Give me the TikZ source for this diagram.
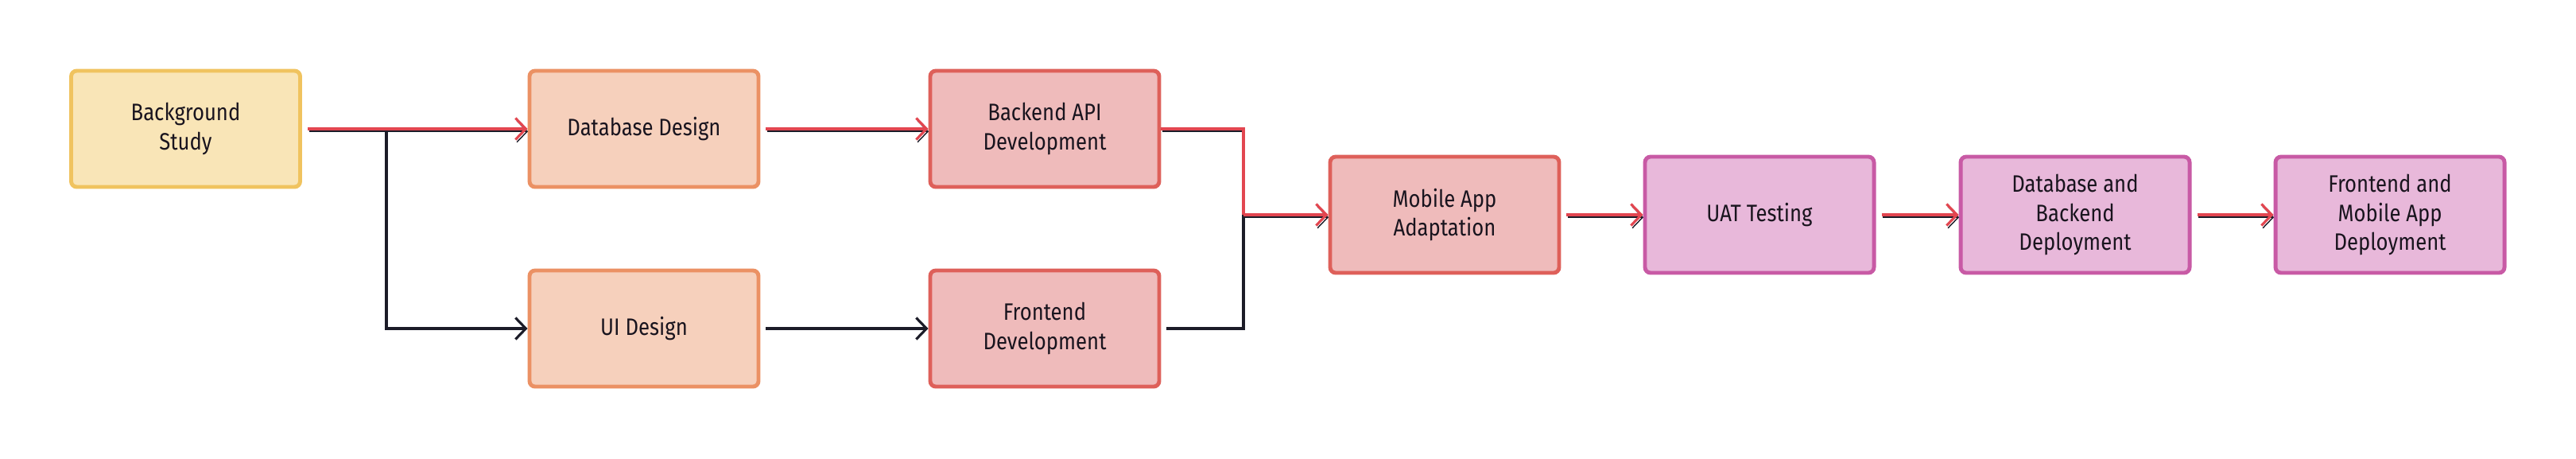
\documentclass[tikz,border=0pt]{standalone}
\usepackage{fontspec}
\setmainfont[FakeStretch=0.86]{Fira Sans}
\usetikzlibrary{arrows.meta}
\definecolor{studyfill}{RGB}{249,229,183}
\definecolor{studyline}{RGB}{240,195,95}
\definecolor{designfill}{RGB}{246,208,188}
\definecolor{designline}{RGB}{235,145,100}
\definecolor{devfill}{RGB}{239,187,187}
\definecolor{devline}{RGB}{222,96,90}
\definecolor{deployfill}{RGB}{232,184,218}
\definecolor{deployline}{RGB}{200,90,165}
\definecolor{critred}{RGB}{226,70,80}
\definecolor{lineblack}{RGB}{28,28,40}
\definecolor{textdark}{RGB}{25,20,30}
\begin{document}
\begin{tikzpicture}[
    task/.style={rectangle, rounded corners=2pt, line width=1.4pt, minimum width=2.88cm, minimum height=1.46cm,
        align=center, text=textdark, font=\fontsize{8.5}{10.5}\selectfont},
    study/.style={task, draw=studyline, fill=studyfill},
    design/.style={task, draw=designline, fill=designfill},
    dev/.style={task, draw=devline, fill=devfill},
    deploy/.style={task, draw=deployline, fill=deployfill},
    link/.style={draw=lineblack, line width=0.9pt, shorten <=0.7mm, -{Straight Barb[length=1.3mm,width=2.7mm]}},
    crit/.style={link, draw=critred, preaction={draw=lineblack, transform canvas={shift={(0.5pt,-0.9pt)}}}}
]
\useasboundingbox (0,0) rectangle (32.4,5.76);
\node[study] (study) at (2.335,4.14) {Background\\Study};
\node[design] (db) at (8.10,4.14) {Database Design};
\node[design] (ui) at (8.10,1.63) {UI Design};
\node[dev] (api) at (13.14,4.14) {Backend API\\Development};
\node[dev] (front) at (13.14,1.63) {Frontend\\Development};
\node[dev] (mobile) at (18.17,3.06) {Mobile App\\Adaptation};
\node[deploy] (uat) at (22.13,3.06) {UAT Testing};
\node[deploy] (dbdeploy) at (26.10,3.06) {Database and\\Backend\\Deployment};
\node[deploy] (fedeploy) at (30.06,3.06) {Frontend and\\Mobile App\\Deployment};
\coordinate (split) at (4.86,4.14);
\coordinate (merge) at (15.64,3.06);
% non-critical tasks
\draw[link, shorten <=0pt] (split) |- (ui.west);
\draw[link] (ui.east) -- (front.west);
\draw[link, -] (front.east) -| (merge);
% critical path
\draw[crit] (study.east) -- (db.west);
\draw[crit] (db.east) -- (api.west);
\draw[crit, -, shorten <=0pt] (api.east) -| (merge);
\draw[crit, shorten <=0pt] (merge) -- (mobile.west);
\draw[crit] (mobile.east) -- (uat.west);
\draw[crit] (uat.east) -- (dbdeploy.west);
\draw[crit] (dbdeploy.east) -- (fedeploy.west);
\end{tikzpicture}
\end{document}
